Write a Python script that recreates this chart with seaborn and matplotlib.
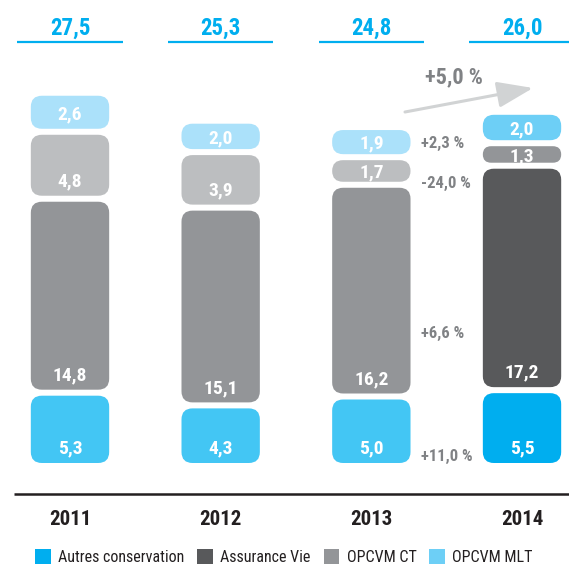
import matplotlib
matplotlib.use("Agg")
import matplotlib.pyplot as plt
import seaborn as sns
from matplotlib import font_manager
from matplotlib.patches import FancyBboxPatch, Patch

# values (Mds)
years = ['2011', '2012', '2013', '2014']
autres = [5.3, 4.3, 5.0, 5.5]
assurance_vie = [14.8, 15.1, 16.2, 17.2]
opcvm_ct = [4.8, 3.9, 1.7, 1.3]
opcvm_mlt = [2.6, 2.0, 1.9, 2.0]
totals = [27.5, 25.3, 24.8, 26.0]
series_names = ['Autres conservation', 'Assurance Vie', 'OPCVM CT', 'OPCVM MLT']
changes = ['+11,0 %', '+6,6 %', '-24,0 %', '+2,3 %']
total_change = '+5,0 %'

# 2011-2013 drawn in a light shade, 2014 in the full shade
light = ['#43c6f4', '#939598', '#bcbec0', '#abe1fa']
dark = ['#00aeef', '#58595b', '#939598', '#6dcff6']


def pick_font():
    fl = font_manager.fontManager.ttflist
    names = {f.name for f in fl}
    for n in ['Roboto Condensed', 'Liberation Sans Narrow', 'Open Sans Condensed',
              'Noto Sans Condensed', 'DejaVu Sans Condensed']:
        if n in names:
            return n, 'normal'
    for f in fl:
        if f.name in ('DejaVu Sans', 'Noto Sans', 'Open Sans', 'Roboto') and f.stretch in (
                'condensed', 'semi-condensed', 'extra-condensed', 300, 400):
            return f.name, 'condensed'
    return 'Roboto', 'normal'


sns.set_style('white')
fam, stretch = pick_font()
plt.rcParams['font.family'] = [fam, 'DejaVu Sans']
plt.rcParams['font.stretch'] = stretch

# pixel layout of the figure
W, H = 569, 566
PX_X, PX_Y = 150.67, 12.7   # pixels per category step / per unit
X0, Y0 = 70, 463            # pixel position of first bar centre / baseline
GAP = 6 / PX_Y


def dx(px):
    return (px - X0) / PX_X


def dy(py):
    return (Y0 - py) / PX_Y


fig = plt.figure(figsize=(W / 100, H / 100), dpi=100)
ax = fig.add_axes([0, 0, 1, 1])

stack = [autres, assurance_vie, opcvm_ct, opcvm_mlt]
bottoms = []
running = [0.0] * len(years)
for vals in stack:
    bottoms.append(list(running))
    running = [r + v + GAP for r, v in zip(running, vals)]

CAP_VAL = 13.5
for k, vals in enumerate(stack):
    n_before = len(ax.patches)
    tops = [b + v for b, v in zip(bottoms[k], vals)]
    pal = {y: (dark[k] if y == '2014' else light[k]) for y in years}
    sns.barplot(x=years, y=tops, hue=years, palette=pal, width=0.52, saturation=1,
                errorbar=None, legend=False, ax=ax)
    new = sorted(ax.patches[n_before:], key=lambda p: p.get_x())
    for bar, b, v in zip(new, bottoms[k], vals):
        x, w, fc = bar.get_x(), bar.get_width(), bar.get_facecolor()
        bar.remove()
        h_px = v * PX_Y
        r_px = min(11, h_px / 2)
        ax.add_patch(FancyBboxPatch((x, b), w, v,
                                    boxstyle=f'round,pad=0,rounding_size={r_px / PX_X}',
                                    mutation_aspect=PX_X / PX_Y, fc=fc, ec='none'))
        c_px = min(16, h_px / 2)
        ax.text(x + w / 2, b + (c_px - CAP_VAL / 2) / PX_Y, f'{v:.1f}'.replace('.', ','),
                ha='center', va='baseline', color='white', fontsize=14, fontweight='bold')

# totals on top
for i, t in enumerate(totals):
    ax.text(i, dy(35), f'{t:.1f}'.replace('.', ','), ha='center', va='baseline',
            color='#00aeef', fontsize=16.5, fontweight='bold')
    ax.plot([i - 0.35, i + 0.35], [dy(42.5)] * 2, color='#00aeef', lw=1.6,
            solid_capstyle='butt')

# baseline and years
ax.plot([dx(14.5), dx(W)], [dy(493.5)] * 2, color='#231f20', lw=1.8, solid_capstyle='butt')
for i, y in enumerate(years):
    ax.text(i, dy(525), y, ha='center', va='baseline', color='#231f20',
            fontsize=15, fontweight='bold')

# change labels next to 2013
for lab, py in zip(changes, [461, 338, 188, 148]):
    ax.text(dx(421), dy(py), lab, ha='left', va='baseline', color='#808285',
            fontsize=12, fontweight='bold')

ax.text(dx(453.5), dy(83), total_change, ha='center', va='baseline', color='#808285',
        fontsize=16, fontweight='bold')
ax.annotate('', xy=(dx(533), dy(88)), xytext=(dx(405), dy(112)),
            arrowprops=dict(arrowstyle='-|>,head_length=1.1,head_width=0.4',
                            mutation_scale=20, lw=2.2, color='#d1d3d4',
                            shrinkA=0, shrinkB=0))

handles = [Patch(fc=c, ec='none') for c in dark]
ax.legend(handles, series_names, ncol=4, loc='lower left',
          bbox_to_anchor=(35 / W, 1 / H), frameon=False, fontsize=11.5,
          handlelength=1.0, handleheight=1.0, handletextpad=0.45,
          columnspacing=0.8, borderpad=0, borderaxespad=0, labelcolor='#231f20')

ax.set_xlim(dx(0), dx(W))
ax.set_ylim(dy(H), dy(0))
ax.axis('off')

fig.savefig('out.png', dpi=100)
